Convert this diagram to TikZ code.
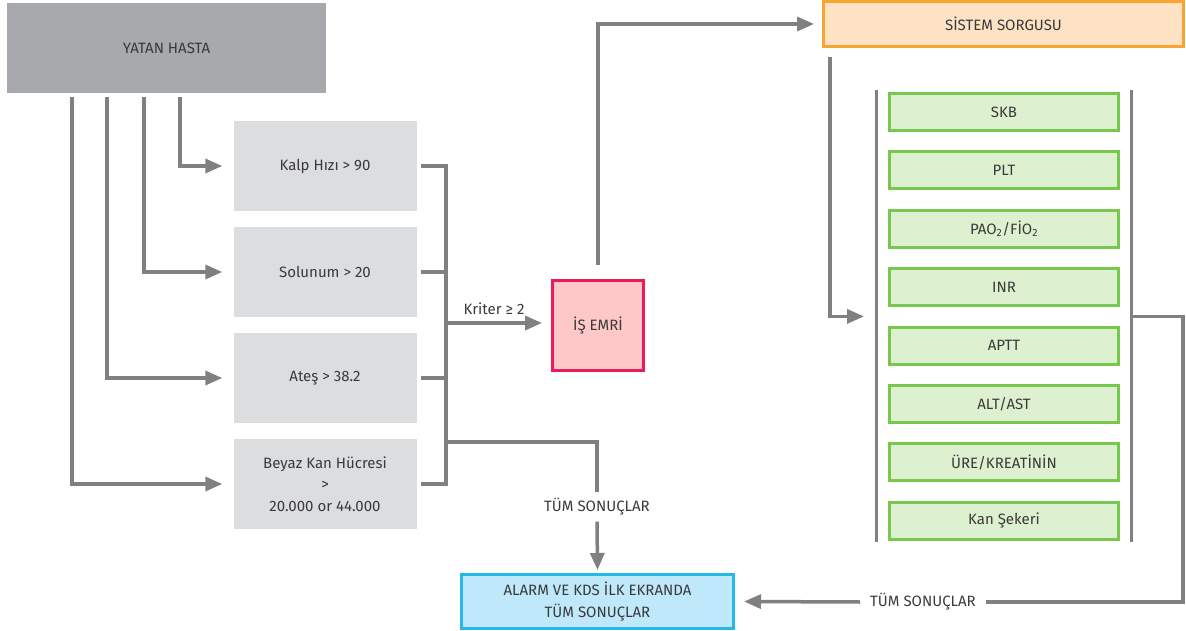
\documentclass[tikz,border=0pt]{standalone}
\usepackage{fontspec}
\setmainfont{Fira Sans}
\usetikzlibrary{arrows.meta,calc}

\definecolor{linegray}{HTML}{808080}
\definecolor{textgray}{HTML}{3A3A3A}
\definecolor{patientgray}{HTML}{A8A9AC}
\definecolor{critgray}{HTML}{DCDDDF}
\definecolor{orderfill}{HTML}{FEC8C8}
\definecolor{orderline}{HTML}{EC1C5C}
\definecolor{queryfill}{HTML}{FDE2C4}
\definecolor{queryline}{HTML}{F8A332}
\definecolor{testfill}{HTML}{DDF0D0}
\definecolor{testline}{HTML}{78C850}
\definecolor{alarmfill}{HTML}{BFE8FA}
\definecolor{alarmline}{HTML}{27B8EA}

\tikzset{
  box/.style={inner sep=0pt, text=textgray, align=center, font=\fontsize{15}{21.5}\selectfont},
  crit/.style={box, fill=critgray, minimum width=183pt, minimum height=90pt},
  testbox/.style={box, draw=testline, fill=testfill, line width=3pt, minimum width=229pt, minimum height=37pt},
  conn/.style={draw=linegray, line width=3.5pt},
  arr/.style={conn, -{Triangle[length=17pt,width=14pt]}},
  lbl/.style={text=textgray, font=\fontsize{15}{18}\selectfont},
}

\begin{document}
\begin{tikzpicture}[x=1pt,y=-1pt]
  \useasboundingbox (0,0) rectangle (1186,631);
  % patient and criteria
  \node[box, fill=patientgray, minimum width=319pt, minimum height=90pt] (yatan) at (166.5,48) {YATAN HASTA};
  \node[crit] (kalp) at (325,166) {Kalp Hızı > 90};
  \node[crit] (solunum) at (325,272) {Solunum > 20};
  \node[crit] (ates) at (325,378) {Ateş > 38.2};
  \node[crit] (beyaz) at (325,484) {Beyaz Kan Hücresi\\>\\20.000 or 44.000};
  % order and query
  \node[box, draw=orderline, fill=orderfill, line width=3pt, minimum width=91pt, minimum height=90pt] (isemri) at (598,325.5) {İŞ EMRİ};
  \node[box, draw=queryline, fill=queryfill, line width=3pt, minimum width=360pt, minimum height=45pt] (sistem) at (1003.5,24) {SİSTEM SORGUSU};
  % lab tests
  \node[testbox] (skb) at (1004,112) {SKB};
  \node[testbox] (plt) at (1004,170.4) {PLT};
  \node[testbox] (pao) at (1004,228.8) {PAO\textsubscript{2}/FİO\textsubscript{2}};
  \node[testbox] (inr) at (1004,287.2) {INR};
  \node[testbox] (aptt) at (1004,345.6) {APTT};
  \node[testbox] (alt) at (1004,404) {ALT/AST};
  \node[testbox] (ure) at (1004,462.4) {ÜRE/KREATİNİN};
  \node[testbox] (seker) at (1004,520.8) {Kan Şekeri};
  % screen
  \node[box, draw=alarmline, fill=alarmfill, line width=3pt, minimum width=272pt, minimum height=54pt] (alarm) at (597.5,601.5) {ALARM VE KDS İLK EKRANDA\\TÜM SONUÇLAR};

  % patient to criteria
  \draw[arr] ([shift={(173,4)}]yatan.south west) |- ([xshift=-11pt]kalp.west);
  \draw[arr] ([shift={(137,4)}]yatan.south west) |- ([xshift=-11pt]solunum.west);
  \draw[arr] ([shift={(100,4)}]yatan.south west) |- ([xshift=-11pt]ates.west);
  \draw[arr] ([shift={(65,4)}]yatan.south west) |- ([xshift=-11pt]beyaz.west);
  % criteria bus
  \coordinate (bus) at (446,323);
  \coordinate (split) at (446,442);
  \draw[conn] ([xshift=4pt]kalp.east) -| (bus) |- ([xshift=4pt]beyaz.east);
  \draw[conn] ([xshift=4pt]solunum.east) -- (solunum.east -| bus);
  \draw[conn] ([xshift=4pt]ates.east) -- (ates.east -| bus);
  \draw[arr] (bus) -- node[lbl, above, yshift=3pt] {Kriter ≥ 2} ([xshift=-9pt]isemri.west |- bus);
  % all results, left branch
  \node[lbl, inner ysep=6pt] (tum1) at (597,507) {TÜM SONUÇLAR};
  \draw[conn] (split) -| (tum1.north);
  \draw[arr] (tum1.south) -- ([yshift=3pt]alarm.north);
  % order to query to tests
  \draw[arr] ([yshift=14pt]isemri.north) |- ([xshift=-8pt]sistem.west);
  \coordinate (in) at ($(inr.west)!0.5!(aptt.west)$);
  \coordinate (out) at ($(inr.east)!0.5!(aptt.east)$);
  \draw[arr] ([shift={(8,9)}]sistem.south west) |- ([xshift=-24pt]in);
  \draw[conn] ([shift={(-11.5,-1.5)}]skb.north west) -- ([shift={(-11.5,1.5)}]seker.south west);
  \draw[conn] ([shift={(11.5,-1.5)}]skb.north east) -- ([shift={(11.5,1.5)}]seker.south east);
  % all results, right branch
  \coordinate (corner) at (1183,602);
  \node[lbl, inner xsep=10pt] (tum2) at (923,602) {TÜM SONUÇLAR};
  \draw[conn] ([xshift=11.5pt]out) -| (corner) -- (tum2.east);
  \draw[arr] (tum2.west) -- ([xshift=9pt]alarm.east);
\end{tikzpicture}
\end{document}
